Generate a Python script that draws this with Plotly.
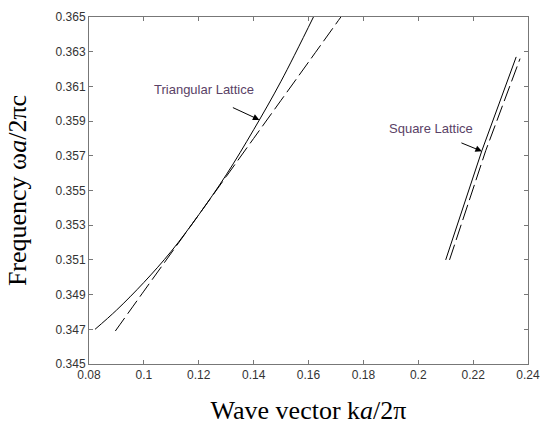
import plotly.graph_objects as go

# Triangular lattice
tri_solid_k = [0.0822, 0.0900, 0.1000, 0.1100, 0.1200, 0.1300, 0.1400, 0.1500, 0.1618]
tri_solid_f = [0.3470, 0.3481, 0.3497, 0.3515, 0.3536, 0.3559, 0.3585, 0.3613, 0.3650]
tri_dash_k = [0.0896, 0.1000, 0.1100, 0.1200, 0.1300, 0.1400, 0.1500, 0.1600, 0.1718]
tri_dash_f = [0.3469, 0.3492, 0.3514, 0.3536, 0.3558, 0.3580, 0.3602, 0.3624, 0.3650]

# Square lattice
sq_solid_k = [0.2100, 0.2232, 0.2357]
sq_solid_f = [0.3510, 0.3573, 0.3627]
sq_dash_k = [0.2114, 0.2246, 0.2371]
sq_dash_f = [0.3510, 0.3573, 0.3626]

x_ticks = [0.08, 0.1, 0.12, 0.14, 0.16, 0.18, 0.2, 0.22, 0.24]
x_tick_text = ["0.08", "0.1", "0.12", "0.14", "0.16", "0.18", "0.2", "0.22", "0.24"]
y_ticks = [0.345, 0.347, 0.349, 0.351, 0.353, 0.355, 0.357, 0.359, 0.361, 0.363, 0.365]
y_tick_text = ["0.345", "0.347", "0.349", "0.351", "0.353", "0.355", "0.357", "0.359", "0.361", "0.363", "0.365"]

fig = go.Figure()
solid = dict(color="black", width=1)
dashed = dict(color="black", width=1, dash="16px,5px")
fig.add_trace(go.Scatter(x=tri_solid_k, y=tri_solid_f, mode="lines", line=dict(**solid, shape="spline"), showlegend=False))
fig.add_trace(go.Scatter(x=tri_dash_k, y=tri_dash_f, mode="lines", line=dict(**dashed, shape="spline"), showlegend=False))
fig.add_trace(go.Scatter(x=sq_solid_k, y=sq_solid_f, mode="lines", line=solid, showlegend=False))
fig.add_trace(go.Scatter(x=sq_dash_k, y=sq_dash_f, mode="lines", line=dashed, showlegend=False))

tick_font = dict(family="Liberation Sans, Arial", size=12, color="#333")
title_font = dict(family="Liberation Serif, Times New Roman", size=26, color="black")
axis_common = dict(
    showline=True, linecolor="#777", linewidth=1, mirror="ticks",
    ticks="inside", ticklen=4, tickcolor="#777", tickwidth=1,
    showgrid=False, zeroline=False, tickfont=tick_font,
)
fig.update_xaxes(range=[0.08, 0.24], tickvals=x_ticks, ticktext=x_tick_text,
                 title=dict(text="Wave vector k<i>a</i>/2π", font=title_font, standoff=19),
                 **axis_common)
fig.update_yaxes(range=[0.345, 0.365], tickvals=y_ticks, ticktext=y_tick_text,
                 title=dict(text="Frequency ω<i>a</i>/2πc", font=title_font, standoff=21),
                 **axis_common)

ann_font = dict(family="Liberation Sans, Arial", size=13, color="#5a4266")
fig.add_annotation(x=0.1218, y=0.3608, text="Triangular Lattice", showarrow=False, font=ann_font)
fig.add_annotation(x=0.2046, y=0.3586, text="Square Lattice", showarrow=False, font=ann_font)
fig.add_annotation(x=0.1421, y=0.35907, ax=-28, ay=-13,
                   text="", showarrow=True, arrowhead=2, arrowsize=1.3, arrowwidth=1, arrowcolor="black")
fig.add_annotation(x=0.2232, y=0.35726, ax=-22, ay=-9,
                   text="", showarrow=True, arrowhead=2, arrowsize=1.3, arrowwidth=1, arrowcolor="black")

fig.update_layout(
    width=550, height=436,
    margin=dict(l=89, r=13, t=10, b=72),
    paper_bgcolor="white", plot_bgcolor="white",
)
fig.write_html("out.html")
